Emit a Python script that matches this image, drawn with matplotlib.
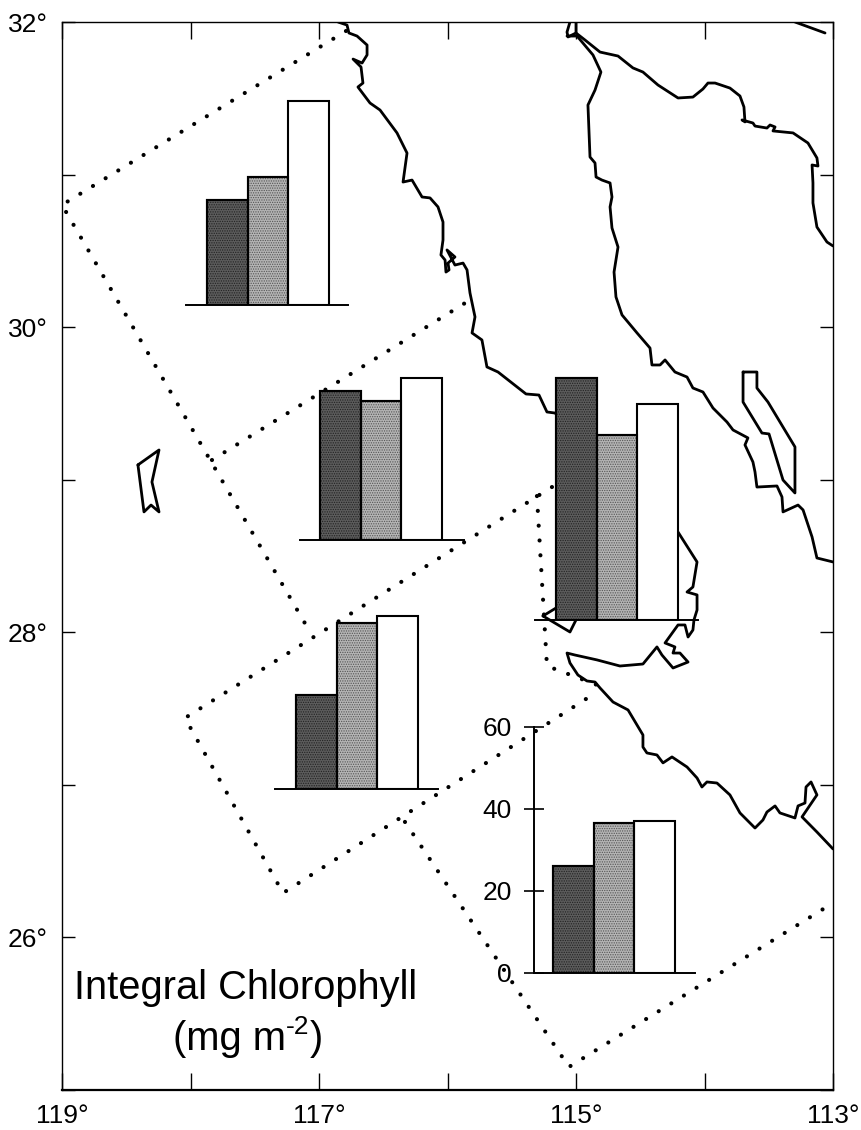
import matplotlib
matplotlib.use("Agg")
import matplotlib.pyplot as plt

plt.rcParams['font.family'] = ['Liberation Sans', 'DejaVu Sans']
plt.rcParams['hatch.linewidth'] = 0.6

W, H = 862, 1130

# coastlines, lon (deg W) / lat (deg N)
pacific_lon = [116.852,116.782,116.767,116.704,116.626,116.626,116.665,116.735,116.673,116.658,116.697,116.603,116.525,116.393,116.315,116.346,116.276,116.198,116.136,116.074,116.035,116.035,116.051,116.019,116.012,115.988,115.996,115.942,116.004,115.942,115.879,115.848,115.825,115.786,115.809,115.732,115.693,115.607,115.498,115.389,115.288,115.226,115.163,114.206,114.058,114.090,114.136,114.058,114.058,114.082,114.090,114.128,114.152,114.206,114.307,114.230,114.245,114.191,114.128,114.245,114.331,114.370,114.479,114.658,114.837,115.008,115.070,115.047,114.985,114.915,114.852,114.813,114.712,114.595,114.479,114.479,114.448,114.370,114.323,114.253,114.136,114.058,114.020,113.981,113.903,113.802,113.724,113.607,113.545,113.514,113.451,113.413,113.296,113.272,113.218,113.210,113.171,113.125,113.241,113.125,113.000]
pacific_lat = [32.000,31.980,31.928,31.908,31.849,31.784,31.731,31.757,31.705,31.600,31.574,31.469,31.423,31.273,31.141,30.951,30.964,30.853,30.847,30.788,30.689,30.571,30.473,30.440,30.361,30.375,30.420,30.460,30.506,30.407,30.420,30.375,30.224,30.067,29.962,29.916,29.739,29.706,29.634,29.562,29.555,29.444,29.437,28.657,28.461,28.297,28.264,28.245,28.146,28.081,28.015,27.969,28.048,28.048,27.930,27.904,27.864,27.864,27.805,27.766,27.851,27.904,27.792,27.779,27.819,27.851,27.864,27.799,27.720,27.681,27.674,27.635,27.543,27.491,27.327,27.248,27.209,27.196,27.144,27.183,27.117,27.045,26.986,27.019,27.012,26.934,26.816,26.717,26.770,26.822,26.862,26.816,26.783,26.862,26.881,26.986,27.019,26.934,26.790,26.691,26.580]

mainland_lon = [115.000,114.930,114.813,114.673,114.557,114.479,114.362,114.206,114.090,114.012,113.973,113.918,113.802,113.724,113.693,113.685,113.708,113.623,113.607,113.514,113.490,113.451,113.467,113.311,113.195,113.125,113.117,113.163,113.156,113.156,113.125,113.047,113.000]
mainland_lat = [31.928,31.882,31.803,31.777,31.699,31.672,31.587,31.502,31.508,31.561,31.600,31.600,31.567,31.515,31.443,31.345,31.358,31.338,31.318,31.305,31.325,31.312,31.286,31.273,31.207,31.109,31.056,31.063,30.945,30.814,30.656,30.558,30.532]

gulf_lon = [115.070,114.992,114.868,114.806,114.852,114.907,114.891,114.852,114.844,114.798,114.735,114.720,114.735,114.720,114.673,114.704,114.689,114.642,114.525,114.424,114.409,114.346,114.307,114.230,114.136,114.090,114.012,113.934,113.825,113.778,113.662,113.685,113.623,113.607,113.592,113.436,113.397,113.389,113.272,113.233,113.163,113.125,113.000]
gulf_lat = [31.908,31.908,31.784,31.672,31.554,31.456,31.115,31.076,30.984,30.964,30.945,30.853,30.788,30.650,30.525,30.361,30.198,30.080,29.962,29.863,29.752,29.752,29.785,29.706,29.673,29.601,29.575,29.470,29.378,29.326,29.274,29.228,29.116,29.051,28.952,28.959,28.887,28.789,28.834,28.802,28.625,28.487,28.461]

delta_lon = [115.047,115.070,115.062,115.000,115.000]
delta_lat = [32.000,31.934,31.902,31.928,32.000]

corner_lon = [113.296,113.062]
corner_lat = [32.000,31.928]

# islands
angel_lon = [113.700,113.592,113.592,113.506,113.296,113.296,113.389,113.498,113.553,113.700,113.700]
angel_lat = [29.706,29.706,29.601,29.509,29.215,28.913,28.998,29.300,29.306,29.509,29.706]
cedros_lon = [115.257,115.156,115.000,115.047,115.257]
cedros_lat = [28.107,28.159,28.081,28.002,28.107]
guadalupe_lon = [118.409,118.245,118.300,118.245,118.307,118.362,118.409]
guadalupe_lat = [29.097,29.195,28.985,28.789,28.834,28.789,29.097]

# dotted region boundaries
box_a_lon = [116.790,119.000,117.070]
box_a_lat = [31.941,30.801,28.002]
box_b_lon = [117.833,115.825]
box_b_lat = [29.129,30.178]
box_c_lon = [115.187,118.043,117.280,114.837]
box_c_lat = [28.952,27.438,26.291,27.609]
box_d_lon = [115.304,115.226,114.837]
box_d_lat = [28.893,27.779,27.655]
box_e_lon = [116.331,115.055,113.000]
box_e_lat = [26.757,25.151,26.226]

# integral chlorophyll, mg m-2, dark / grey / white bars
north_vals = [25.6, 31.2, 49.8]
middle_vals = [36.3, 33.9, 39.5]
gulf_vals = [59.0, 45.1, 52.7]
lower_vals = [22.9, 40.5, 42.2]
south_vals = [26.0, 36.6, 37.0]

lon_ticks = [119, 118, 117, 116, 115, 114, 113]
lon_labels = ['119°', '', '117°', '', '115°', '', '113°']
lat_ticks = [32, 31, 30, 29, 28, 27, 26, 25]
lat_labels = ['32°', '', '30°', '', '28°', '', '26°', '']
scale_ticks = [0, 20, 40, 60]


def add_bars(vals, left, right, first_bar, base, bar_w=40.6, with_axis=False):
    # small axes placed on the figure in pixels, 4.1 px per mg m-2
    top = 60 if with_axis else 62
    a = fig.add_axes([left / W, (H - base) / H, (right - left) / W, top * 4.1 / H])
    a.patch.set_visible(False)
    a.bar([0, 1, 2], vals, width=1, color=['#5c5c5c', '#b4b4b4', 'white'],
          edgecolor='black', linewidth=1.5, zorder=2)
    a.bar([0, 1], vals[:2], width=1, color='none', edgecolor=['#222222', '#555555'],
          hatch='.......', linewidth=0, zorder=3)
    a.bar([0, 1], vals[:2], width=1, color='none', edgecolor='black', linewidth=1.5, zorder=4)
    a.set_xlim((left - first_bar) / bar_w - 0.5, (right - first_bar) / bar_w - 0.5)
    a.set_ylim(0, top)
    for s in ['top', 'right', 'left']:
        a.spines[s].set_visible(False)
    a.spines['bottom'].set_linewidth(1.4)
    a.set_xticks([])
    if with_axis:
        a.spines['left'].set_visible(True)
        a.spines['left'].set_linewidth(1.4)
        a.set_yticks(scale_ticks)
        a.tick_params(axis='y', direction='inout', length=15, width=1.2, labelsize=19, pad=8)
    else:
        a.set_yticks([])
    return a


fig = plt.figure(figsize=(W / 100, H / 100), dpi=100, facecolor='white')
ax = fig.add_axes([62 / W, (H - 1090) / H, 771 / W, 1068 / H])
ax.set_xlim(119, 113)
ax.set_ylim(25, 32)

for lons, lats in [(pacific_lon, pacific_lat), (mainland_lon, mainland_lat), (gulf_lon, gulf_lat),
                   (delta_lon, delta_lat), (corner_lon, corner_lat), (angel_lon, angel_lat),
                   (cedros_lon, cedros_lat), (guadalupe_lon, guadalupe_lat)]:
    ax.plot(lons, lats, color='black', linewidth=2.0, solid_joinstyle='round', solid_capstyle='round')

for lons, lats in [(box_a_lon, box_a_lat), (box_b_lon, box_b_lat), (box_c_lon, box_c_lat),
                   (box_d_lon, box_d_lat), (box_e_lon, box_e_lat)]:
    ax.plot(lons, lats, color='black', linewidth=3.0, linestyle=(0, (0.01, 3.55)), dash_capstyle='round')

ax.set_xticks(lon_ticks)
ax.set_xticklabels(lon_labels)
ax.set_yticks(lat_ticks)
ax.set_yticklabels(lat_labels)
ax.tick_params(axis='x', which='both', direction='in', top=True, bottom=True, length=12.5, width=1, labelsize=19, pad=10)
ax.tick_params(axis='y', which='both', direction='in', left=True, right=True, length=9.5, width=1, labelsize=19, pad=10)
for s in ['left', 'right', 'top']:
    ax.spines[s].set_linewidth(1)
ax.spines['bottom'].set_linewidth(1.6)

ax.text(117.568, 25.597, 'Integral Chlorophyll', fontsize=28.7, ha='center', va='baseline')
# unit line built from pieces so the exponent keeps a plain hyphen
unit = ax.text(118.136, 25.262, '(mg m', fontsize=28.7, ha='left', va='baseline')
power = ax.annotate('-2', xy=(1, 0), xycoords=unit, xytext=(0, 14), textcoords='offset points',
                    fontsize=19, ha='left', va='bottom')
ax.annotate(')', xy=(1, 0), xycoords=unit, xytext=(17, 0), textcoords='offset points',
            fontsize=28.7, ha='left', va='bottom')

add_bars(north_vals, 186, 348, 207, 305)
add_bars(middle_vals, 300, 464, 320, 540)
add_bars(gulf_vals, 535, 698, 556, 620)
add_bars(lower_vals, 275, 438, 296, 789)
add_bars(south_vals, 533.5, 695, 553, 973, with_axis=True)

fig.savefig('out.png', dpi=100)
